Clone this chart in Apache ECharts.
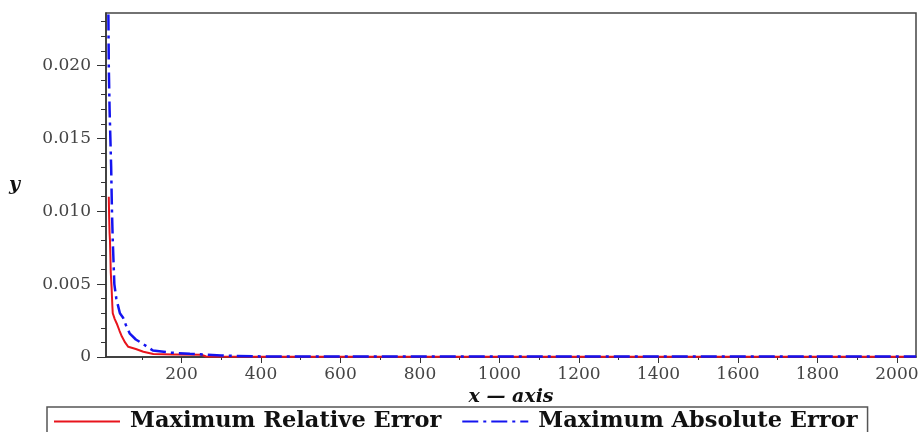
<!DOCTYPE html>
<html>
<head>
<meta charset="utf-8">
<script src="https://cdn.jsdelivr.net/npm/echarts@6/dist/echarts.min.js"></script>
<style>
  html, body { margin: 0; padding: 0; background: #fff; }
  #chart { width: 923px; height: 432px; }
</style>
</head>
<body>
<div id="chart"></div>
<script>
// values
const relX = [17, 18, 19, 20, 21, 22, 24, 26, 27, 32, 37, 44, 50, 58, 66, 85, 104, 129, 180, 250, 262, 400, 1000, 2048];
const relY = [0.0110, 0.0095, 0.0085, 0.0080, 0.0070, 0.0058, 0.0048, 0.0035, 0.0030, 0.0026, 0.0023, 0.0018, 0.0014, 0.0010, 0.0007, 0.00055, 0.00036, 0.0002, 0.00018, 0.00015, 0.00003, 0.00002, 0.00001, 0.00001];

const absX = [16, 17, 19, 21, 23, 25, 27, 29, 31, 36, 45, 53, 60, 70, 85, 103, 128, 171, 221, 300, 398, 1000, 2048];
const absY = [0.0235, 0.0200, 0.0170, 0.0150, 0.0130, 0.0100, 0.0080, 0.0065, 0.0050, 0.0040, 0.0030, 0.0027, 0.0022, 0.0016, 0.0012, 0.0009, 0.00045, 0.0003, 0.00022, 0.0001, 0.00004, 0.00003, 0.00003];

const xMajor = [200, 400, 600, 800, 1000, 1200, 1400, 1600, 1800, 2000];
const xMinor = [100, 300, 500, 700, 900, 1100, 1300, 1500, 1700, 1900];
const yMajor = [0, 0.005, 0.010, 0.015, 0.020];
const yMinor = [0.001, 0.002, 0.003, 0.004, 0.006, 0.007, 0.008, 0.009, 0.011, 0.012, 0.013, 0.014, 0.016, 0.017, 0.018, 0.019, 0.021, 0.022, 0.023];

const names = ['Maximum Relative Error', 'Maximum Absolute Error'];

const pairs = (xs, ys) => xs.map((x, i) => [x, ys[i]]);

const font = 'DejaVu Serif';
const axisColor = '#333';

const chart = echarts.init(document.getElementById('chart'));
chart.setOption({
  animation: false,
  grid: {
    left: 106, top: 13, right: 7, bottom: 75,
    show: true, borderColor: '#444', borderWidth: 1.5
  },
  legend: {
    data: names,
    left: 47, top: 407,
    itemWidth: 66, itemHeight: 14, itemGap: 20,
    padding: [3, 10, 6, 6],
    borderColor: '#555', borderWidth: 1.5,
    itemStyle: { opacity: 0 },
    textStyle: { fontFamily: font, fontWeight: 'bold', fontSize: 22.5, color: '#111', padding: [0, 0, 0, 5] }
  },
  xAxis: [{
    type: 'value', min: 10, max: 2048,
    name: 'x — axis', nameLocation: 'middle', nameGap: 30,
    nameTextStyle: { fontFamily: font, fontWeight: 'bold', fontStyle: 'italic', fontSize: 19, color: '#111' },
    axisLine: { lineStyle: { color: axisColor, width: 1.5 } },
    axisTick: { customValues: xMajor, length: 6, lineStyle: { color: axisColor } },
    axisLabel: {
      customValues: xMajor, margin: 9, fontFamily: font, fontSize: 17, color: '#444',
      formatter: v => String(v)
    },
    splitLine: { show: false }
  }, {
    type: 'value', min: 10, max: 2048, position: 'bottom',
    axisLine: { show: false },
    axisTick: { customValues: xMinor, length: 3, lineStyle: { color: axisColor } },
    axisLabel: { show: false },
    splitLine: { show: false }
  }],
  yAxis: [{
    type: 'value', min: 0, max: 0.0236,
    name: 'y', nameLocation: 'middle', nameRotate: 0, nameGap: 86,
    nameTextStyle: { fontFamily: font, fontWeight: 'bold', fontStyle: 'italic', fontSize: 19, color: '#111' },
    axisLine: { show: true, lineStyle: { color: axisColor, width: 1.5 } },
    axisTick: { show: true, customValues: yMajor, length: 9, lineStyle: { color: axisColor } },
    axisLabel: {
      customValues: yMajor, margin: 15, fontFamily: font, fontSize: 17, color: '#444',
      formatter: v => (v === 0 ? '0' : v.toFixed(3))
    },
    splitLine: { show: false }
  }, {
    type: 'value', min: 0, max: 0.0236, position: 'left',
    axisLine: { show: false },
    axisTick: { show: true, customValues: yMinor, length: 5, lineStyle: { color: axisColor } },
    axisLabel: { show: false },
    splitLine: { show: false }
  }],
  series: [{
    name: names[0], type: 'line', symbol: 'none',
    data: pairs(relX, relY),
    lineStyle: { color: '#e8141c', width: 2 },
    itemStyle: { color: '#e8141c' }
  }, {
    name: names[1], type: 'line', symbol: 'none',
    data: pairs(absX, absY),
    lineStyle: { color: '#1414f0', width: 2.5, type: [16, 5, 3, 5] },
    itemStyle: { color: '#1414f0' }
  }]
});
</script>
</body>
</html>
